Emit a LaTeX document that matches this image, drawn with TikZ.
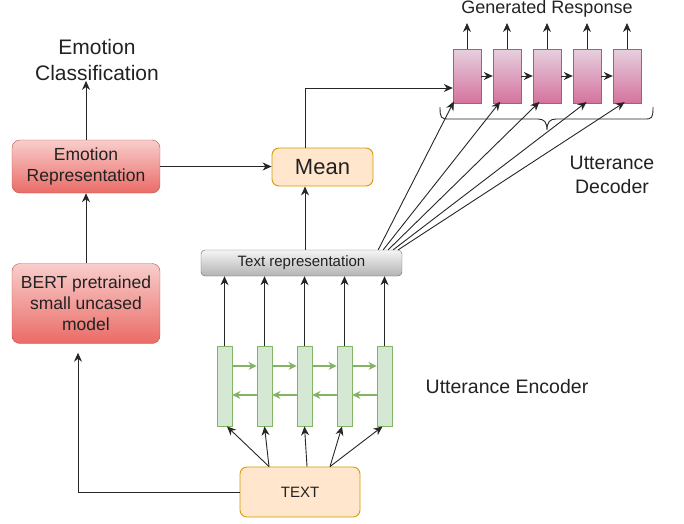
\documentclass[tikz,border=0pt]{standalone}
\usepackage{fontspec}
\setmainfont{Liberation Sans}
\usetikzlibrary{arrows.meta,calc}
\definecolor{redfill}{HTML}{F8CECC}
\definecolor{redbot}{HTML}{EA6B66}
\definecolor{redline}{HTML}{B85450}
\definecolor{orfill}{HTML}{FFE6CC}
\definecolor{orline}{HTML}{D79B00}
\definecolor{pinktop}{HTML}{E6D0DE}
\definecolor{pinkbot}{HTML}{D5739D}
\definecolor{pinkline}{HTML}{996185}
\definecolor{grtop}{HTML}{F5F5F5}
\definecolor{grbot}{HTML}{B3B3B3}
\definecolor{grline}{HTML}{666666}
\definecolor{gfill}{HTML}{D5E8D4}
\definecolor{gline}{HTML}{82B366}
\definecolor{txt}{HTML}{222222}
\tikzset{
  redbox/.style={draw=redline, top color=redfill, bottom color=redbot, rounded corners=8pt, minimum width=148pt, align=center, text=txt, inner sep=0pt, font=\fontsize{17.5}{21}\selectfont},
  orbox/.style={draw=orline, line width=0.9pt, fill=orfill, rounded corners=7pt, align=center, text=txt, inner sep=0pt},
  decbox/.style={draw=pinkline, top color=pinktop, bottom color=pinkbot, minimum width=28pt, minimum height=54pt, inner sep=0pt},
  encbox/.style={draw=gline, line width=0.9pt, fill=gfill, minimum width=15pt, minimum height=80pt, inner sep=0pt},
  graybox/.style={draw=grline, top color=grtop, bottom color=grbot, rounded corners=4pt, minimum width=201pt, minimum height=26pt, inner sep=0pt, text=txt, font=\fontsize{15}{18}\selectfont},
  label/.style={text=txt, align=center, inner sep=0pt},
  arr/.style={draw=black!85, line width=0.9pt, -{Stealth[length=9pt,width=8pt]}},
  garr/.style={draw=gline, line width=1.3pt, -{Stealth[length=8pt,width=8pt]}},
}
\begin{document}
\begin{tikzpicture}[x=1pt,y=-1pt]
\useasboundingbox (0,0) rectangle (684,523);
% labels
\node[label, font=\fontsize{21}{26}\selectfont] (ecls) at (97,60) {Emotion\\Classification};
\node[label, font=\fontsize{18}{22}\selectfont] (gen) at (547,9) {Generated Response};
\node[label, font=\fontsize{19.5}{24}\selectfont] (udec) at (612,175) {Utterance\\Decoder};
\node[label, font=\fontsize{19.5}{24}\selectfont] (uenc) at (507,387) {Utterance Encoder};
% main boxes
\node[redbox, minimum height=53pt] (erep) at (86,166.5) {Emotion\\Representation};
\node[redbox, minimum height=80pt] (bert) at (86,303.5) {BERT pretrained\\small uncased\\model};
\node[orbox, minimum width=101pt, minimum height=38pt, font=\fontsize{22}{26}\selectfont] (mean) at (322.5,167) {Mean};
\node[graybox] (trep) at (301.5,263) {Text representation};
\node[orbox, minimum width=120pt, minimum height=50pt, font=\fontsize{15}{18}\selectfont] (text) at (300,492) {TEXT};
% decoder boxes
\foreach \i in {1,...,5} {
  \node[decbox] (dec\i) at ({467+40*(\i-1)},76) {};
  \coordinate (g\i) at ({467+40*(\i-1)},23);
  \draw[arr] (dec\i.north) -- (g\i);
}
\foreach \i/\j in {1/2,2/3,3/4,4/5} {
  \draw[arr] (dec\i.east) -- (dec\j.west);
}
% encoder boxes
\foreach \i in {1,...,5} {
  \node[encbox] (enc\i) at ({224.5+40*(\i-1)},386) {};
  \draw[arr] (enc\i.north) -- (enc\i.north |- trep.south);
}
\foreach \i/\j in {1/2,2/3,3/4,4/5} {
  \draw[garr] ([yshift=20pt]enc\i.east) -- ([yshift=20pt]enc\j.west);
  \draw[garr] ([yshift=-9pt]enc\j.west) -- ([yshift=-9pt]enc\i.east);
}
% brace
\draw[line width=0.9pt, draw=black!85] (440,107) .. controls (440,118) and (441,119) .. (449,119) -- (538,119) .. controls (544,119) and (547,122) .. (547,130) .. controls (547,122) and (550,119) .. (556,119) -- (645,119) .. controls (652,119) and (653,118) .. (653,107);
% connectors
\draw[arr] (erep.north) -- (erep.north |- ecls.south);
\draw[arr] (bert.north) -- (erep.south);
\draw[arr] (erep.east) -- (erep.east -| mean.west);
\coordinate (mx) at (305,0);
\draw[arr] (mx |- trep.north) -- (mx |- mean.south);
\draw[arr] (mx |- mean.north) |- ([yshift=-12pt]dec1.west);
% trep to decoders
\draw[arr, shorten >=-2pt] ([xshift=-24pt]trep.north east) -- ([xshift=-14pt]dec1.south);
\draw[arr, shorten >=-2pt] ([xshift=-19pt]trep.north east) -- ([xshift=-8pt]dec2.south);
\draw[arr, shorten >=-2pt] ([xshift=-14pt]trep.north east) -- ([xshift=-9pt]dec3.south);
\draw[arr, shorten >=-2pt] ([xshift=-9pt]trep.north east) -- ([xshift=-2pt]dec4.south);
\draw[arr, shorten >=-2pt] ([xshift=-4pt]trep.north east) -- ([xshift=-4pt]dec5.south);
% text to encoders
\draw[arr] ([xshift=-31pt]text.north) -- ([xshift=2.5pt]enc1.south);
\draw[arr] ([xshift=-31pt]text.north) -- (enc2.south);
\draw[arr] ([xshift=7pt]text.north) -- (enc3.south);
\draw[arr] ([xshift=30pt]text.north) -- ([xshift=-2.5pt]enc4.south);
\draw[arr] ([xshift=30pt]text.north) -- ([xshift=-2pt]enc5.south);
% text to bert
\draw[arr, shorten >=9pt] (text.west) -| ([xshift=-8pt]bert.south);
\end{tikzpicture}
\end{document}
